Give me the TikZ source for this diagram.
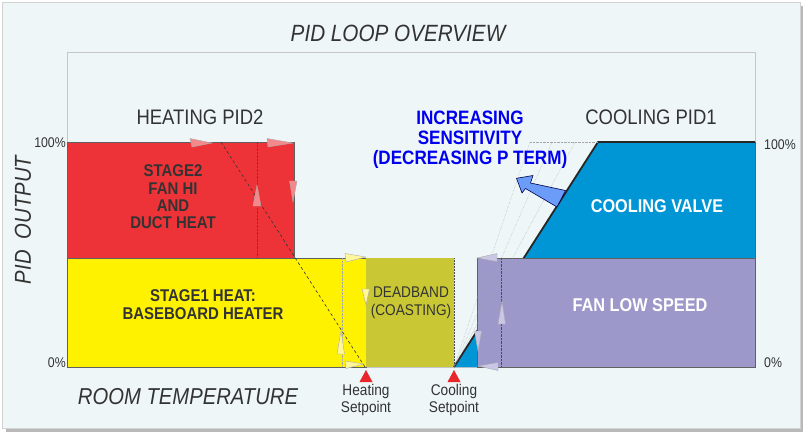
\documentclass[tikz,border=0pt]{standalone}
\usepackage{fontspec}
\setmainfont{Liberation Sans}
\newfontfamily\cond[FakeStretch=0.88]{Liberation Sans}
\definecolor{bgc}{HTML}{EEF6F8}
\definecolor{heatred}{HTML}{EE3338}
\definecolor{heatyel}{HTML}{FFF200}
\definecolor{deadc}{HTML}{C9C834}
\definecolor{coolblue}{HTML}{0096D6}
\definecolor{fanpur}{HTML}{9C98C9}
\definecolor{txt}{HTML}{333333}
\definecolor{bluetxt}{HTML}{0000EE}
\definecolor{arrowblue}{HTML}{6A9CF8}
\definecolor{spred}{HTML}{E8262B}
\definecolor{redtric}{HTML}{F4898B}
\definecolor{yeltric}{HTML}{FFF79A}
\definecolor{purtric}{HTML}{C9C6E6}
\begin{document}
\begin{tikzpicture}[x=1pt,y=-1pt,
  lbl/.style={inner sep=0pt,text=txt,font=\cond\fontsize{#1}{#1}\selectfont},
  lbl/.default=14,
  bold/.style={inner sep=0pt,align=center,text=txt,font=\cond\bfseries\fontsize{#1}{1.06*#1}\selectfont},
  wbold/.style={inner sep=0pt,text=white,font=\cond\bfseries\fontsize{#1}{#1}\selectfont},
  barline/.style={draw=gray!75!black,line width=0.4pt},
  guide/.style={draw=gray!60!black,densely dotted,line width=0.4pt},
  tri/.style={draw=gray!65,line width=0.4pt},
  redtri/.style={tri,fill=redtric},
  yeltri/.style={tri,fill=yeltric},
  purtri/.style={tri,fill=purtric},
]
\useasboundingbox (0,0) rectangle (806,436);
% panel
\fill[gray!55] (6,6) rectangle (803,432);
\filldraw[fill=bgc,draw=gray!35,line width=0.5pt] (2,2) rectangle (800,428);
\draw[gray!45,line width=0.8pt] (67,52) rectangle (755,367);
% bars
\filldraw[fill=heatred,barline] (67,142) rectangle (294,258);
\filldraw[fill=heatyel,barline] (67,258) rectangle (366,367);
\fill[deadc] (366,258) rectangle (454,367);
\draw[draw=gray!60!black,densely dotted,line width=0.5pt] (454,258) -- (454,367);
\fill[coolblue] (454,367) -- (598,142) -- (755,142) -- (755,367) -- cycle;
\draw[black!85,line width=1.8pt,line join=round] (454,367) -- (598,142) -- (755,142);
\filldraw[fill=fanpur,barline] (477,258) rectangle (755,367);
\draw[gray!75!black,line width=0.4pt] (755,142) -- (755,258);
% inner guide lines
\draw[guide] (257,142) -- (257,258);
\draw[guide,gray!70] (342,258) -- (342,367);
\draw[guide] (501,258) -- (501,367);
\draw[guide,gray!70] (530,142) -- (598,142);
\draw[guide,gray!70] (454,367) -- (530,142);
\draw[guide,gray!70] (454,367) -- (552,142);
\draw[guide,gray!70] (454,367) -- (575,142);
% dashed heating slope
\coordinate (hs0) at (221,142);
\coordinate (hs1) at (365,367);
\draw[black!80,line width=0.6pt,dash pattern=on 3pt off 2.5pt] (hs0) -- (hs1);
% small direction markers
\filldraw[redtri] (190,138.5) -- (212,143) -- (192,147) -- cycle;
\filldraw[redtri] (267,138.5) -- (293,143) -- (268,147) -- cycle;
\filldraw[redtri] (289.5,181) -- (297,181) -- (293,202) -- cycle;
\filldraw[redtri] (253,206) -- (261,206) -- (257,185) -- cycle;
\filldraw[yeltri] (345,253.5) -- (366,257) -- (346,262) -- cycle;
\filldraw[yeltri] (362,289) -- (369.5,289) -- (366,305) -- cycle;
\filldraw[yeltri] (345,361) -- (364,364) -- (346,368.5) -- cycle;
\filldraw[yeltri] (337,354) -- (344.5,354) -- (341,331) -- cycle;
\filldraw[purtri] (477,258) -- (497,253.5) -- (497,261.5) -- cycle;
\filldraw[purtri] (478,366) -- (498,362.5) -- (498,370.5) -- cycle;
\filldraw[purtri] (474.5,331) -- (481.5,331) -- (478,351) -- cycle;
\filldraw[purtri] (498,324) -- (505.5,324) -- (502,301) -- cycle;
% sensitivity arrow
\filldraw[fill=arrowblue,draw=blue!30!black,line width=0.6pt,line join=round]
  (516.5,178.3) -- (533,175.5) -- (530.5,183) -- (565.5,190.5) -- (557,207)
  -- (525.5,188.5) -- (522,193) -- cycle;
% setpoint markers
\fill[spred] (366,370) -- (372.5,382) -- (359.5,382) -- cycle;
\fill[spred] (454,370) -- (460.5,382) -- (447.5,382) -- cycle;
% texts
\node[lbl=23.5,font=\cond\itshape\fontsize{23.5}{23.5}\selectfont] (title) at (398,33) {PID LOOP OVERVIEW};
\node[lbl=21] (hpid) at (200,117) {HEATING PID2};
\node[lbl=21] (cpid) at (651,117) {COOLING PID1};
\node[lbl=14,anchor=east] (l100) at (66,143) {100\%};
\node[lbl=14,anchor=east] (l0) at (66,363) {0\%};
\node[lbl=14,anchor=west] (r100) at (764,145) {100\%};
\node[lbl=14,anchor=west] (r0) at (764,363) {0\%};
\node[lbl=23,font=\cond\itshape\fontsize{23}{23}\selectfont,rotate=90] (yax) at (23,220) {PID\ \ OUTPUT};
\node[lbl=23,font=\cond\itshape\fontsize{23}{23}\selectfont] (xax) at (188,397) {ROOM TEMPERATURE};
\node[lbl=15.5,align=center,font=\cond\fontsize{15.5}{16.5}\selectfont] (hsp) at (366,400) {Heating\\Setpoint};
\node[lbl=15.5,align=center,font=\cond\fontsize{15.5}{16.5}\selectfont] (csp) at (454,400) {Cooling\\Setpoint};
\node[bold=17,font=\cond\bfseries\fontsize{17}{17.3}\selectfont] (stage2) at (173,197) {STAGE2\\FAN HI\\AND\\DUCT HEAT};
\node[bold=17,font=\cond\bfseries\fontsize{17}{18}\selectfont] (stage1) at (203,305) {STAGE1 HEAT:\\BASEBOARD HEATER};
\node[lbl=15,align=center,font=\cond\fontsize{15.5}{18}\selectfont] (dead) at (411,303) {DEADBAND\\(COASTING)};
\node[wbold=18.5] (cv) at (657,206) {COOLING VALVE};
\node[wbold=18.5] (fan) at (640,305) {FAN LOW SPEED};
\node[inner sep=0pt,align=center,text=bluetxt,font=\cond\bfseries\fontsize{19.4}{20}\selectfont] (sens) at (470,140) {INCREASING\\SENSITIVITY\\(DECREASING P TERM)};
\end{tikzpicture}
\end{document}
